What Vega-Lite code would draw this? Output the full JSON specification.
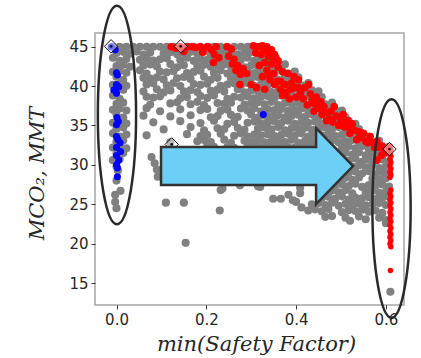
{
"$schema": "https://vega.github.io/schema/vega-lite/v6.json",
"width": 309, "height": 272,
"autosize": {"type": "none"},
"padding": {"left": 95, "top": 33, "right": 17, "bottom": 53},
"background": "white",
"config": {
 "view": {"stroke": "#a6a6a6", "strokeWidth": 1.5},
 "axis": {"domain": false, "grid": false, "tickColor": "#333333", "tickSize": 4, "labelFont": "DejaVu Sans", "labelFontSize": 15, "labelColor": "#262626", "labelPadding": 3, "titleFont": "DejaVu Serif", "titleFontStyle": "italic", "titleFontWeight": "normal", "titleFontSize": 21, "titleColor": "#262626"}
},
"datasets": {
"grey": [
{"sf":-0.008,"co2":45},{"sf":0.007,"co2":45},{"sf":0.022,"co2":45},{"sf":0.037,"co2":45},{"sf":0.052,"co2":45},{"sf":0.067,"co2":45},{"sf":0.082,"co2":45},{"sf":0.097,"co2":45},{"sf":0.112,"co2":45},{"sf":0.127,"co2":45},{"sf":0.142,"co2":45},{"sf":0.157,"co2":45},{"sf":0.172,"co2":45},{"sf":0.187,"co2":45},{"sf":0.202,"co2":45},{"sf":0.217,"co2":45},{"sf":0.232,"co2":45},{"sf":0.247,"co2":45},{"sf":0.262,"co2":45},{"sf":0.277,"co2":45},{"sf":0.292,"co2":45},{"sf":0.307,"co2":45},{"sf":0.322,"co2":45},
{"sf":0,"co2":44.2},{"sf":0.015,"co2":44.35},{"sf":0.03,"co2":44.1},{"sf":0.045,"co2":44.4},{"sf":0.06,"co2":44.0},{"sf":0.075,"co2":44.25},{"sf":0.105,"co2":44.15},{"sf":0.12,"co2":44.3},{"sf":0.135,"co2":44.05},{"sf":0.15,"co2":44.2},{"sf":0.165,"co2":44.35},{"sf":0.18,"co2":44.1},{"sf":0.195,"co2":44.4},{"sf":0.21,"co2":44.0},{"sf":0.225,"co2":44.25},{"sf":0.24,"co2":44.15},{"sf":0.255,"co2":44.3},{"sf":0.27,"co2":44.05},{"sf":0.285,"co2":44.2},{"sf":0.3,"co2":44.35},{"sf":0.315,"co2":44.1},{"sf":0.33,"co2":44.4},{"sf":0.345,"co2":44.0},
{"sf":-0.008,"co2":43.6},{"sf":0.007,"co2":43.2},{"sf":0.022,"co2":43.45},{"sf":0.052,"co2":43.35},{"sf":0.067,"co2":43.5},{"sf":0.082,"co2":43.25},{"sf":0.097,"co2":43.4},{"sf":0.112,"co2":43.55},{"sf":0.142,"co2":43.3},{"sf":0.157,"co2":43.6},{"sf":0.172,"co2":43.2},{"sf":0.187,"co2":43.45},{"sf":0.202,"co2":43.35},{"sf":0.217,"co2":43.5},{"sf":0.232,"co2":43.25},{"sf":0.247,"co2":43.4},{"sf":0.262,"co2":43.55},{"sf":0.277,"co2":43.3},{"sf":0.292,"co2":43.6},{"sf":0.307,"co2":43.2},{"sf":0.322,"co2":43.45},{"sf":0.337,"co2":43.35},{"sf":0.352,"co2":43.5},
{"sf":0,"co2":42.55},{"sf":0.015,"co2":42.7},{"sf":0.03,"co2":42.45},{"sf":0.06,"co2":42.6},{"sf":0.075,"co2":42.75},{"sf":0.09,"co2":42.5},{"sf":0.12,"co2":42.8},{"sf":0.135,"co2":42.4},{"sf":0.15,"co2":42.65},{"sf":0.18,"co2":42.55},{"sf":0.195,"co2":42.7},{"sf":0.21,"co2":42.45},{"sf":0.225,"co2":42.6},{"sf":0.24,"co2":42.75},{"sf":0.255,"co2":42.5},{"sf":0.27,"co2":42.8},{"sf":0.285,"co2":42.4},{"sf":0.3,"co2":42.65},{"sf":0.315,"co2":42.55},{"sf":0.33,"co2":42.7},{"sf":0.345,"co2":42.45},{"sf":0.36,"co2":42.6},{"sf":0.375,"co2":42.75},
{"sf":-0.008,"co2":41.8},{"sf":0.007,"co2":41.95},{"sf":0.022,"co2":41.7},{"sf":0.052,"co2":42.0},{"sf":0.067,"co2":41.6},{"sf":0.097,"co2":41.85},{"sf":0.112,"co2":41.75},{"sf":0.127,"co2":41.9},{"sf":0.157,"co2":41.65},{"sf":0.172,"co2":41.8},{"sf":0.187,"co2":41.95},{"sf":0.217,"co2":41.7},{"sf":0.232,"co2":42.0},{"sf":0.247,"co2":41.6},{"sf":0.262,"co2":41.85},{"sf":0.277,"co2":41.75},{"sf":0.292,"co2":41.9},{"sf":0.307,"co2":41.65},{"sf":0.322,"co2":41.8},{"sf":0.337,"co2":41.95},{"sf":0.352,"co2":41.7},{"sf":0.367,"co2":42.0},{"sf":0.382,"co2":41.6},{"sf":0.397,"co2":41.85},
{"sf":0,"co2":41.2},{"sf":0.015,"co2":40.8},{"sf":0.06,"co2":41.05},{"sf":0.075,"co2":40.95},{"sf":0.09,"co2":41.1},{"sf":0.105,"co2":40.85},{"sf":0.135,"co2":41.0},{"sf":0.15,"co2":41.15},{"sf":0.165,"co2":40.9},{"sf":0.195,"co2":41.2},{"sf":0.21,"co2":40.8},{"sf":0.225,"co2":41.05},{"sf":0.255,"co2":40.95},{"sf":0.27,"co2":41.1},{"sf":0.285,"co2":40.85},{"sf":0.3,"co2":41.0},{"sf":0.315,"co2":41.15},{"sf":0.33,"co2":40.9},{"sf":0.345,"co2":41.2},{"sf":0.36,"co2":40.8},{"sf":0.375,"co2":41.05},{"sf":0.39,"co2":40.95},{"sf":0.405,"co2":41.1},
{"sf":-0.008,"co2":40.15},{"sf":0.007,"co2":40.3},{"sf":0.022,"co2":40.05},{"sf":0.067,"co2":40.2},{"sf":0.082,"co2":40.35},{"sf":0.112,"co2":40.1},{"sf":0.127,"co2":40.4},{"sf":0.142,"co2":40.0},{"sf":0.172,"co2":40.25},{"sf":0.187,"co2":40.15},{"sf":0.202,"co2":40.3},{"sf":0.232,"co2":40.05},{"sf":0.247,"co2":40.2},{"sf":0.262,"co2":40.35},{"sf":0.277,"co2":40.1},{"sf":0.292,"co2":40.4},{"sf":0.307,"co2":40.0},{"sf":0.322,"co2":40.25},{"sf":0.337,"co2":40.15},{"sf":0.352,"co2":40.3},{"sf":0.367,"co2":40.05},{"sf":0.382,"co2":40.2},{"sf":0.397,"co2":40.35},{"sf":0.412,"co2":40.1},{"sf":0.427,"co2":40.4},
{"sf":0,"co2":39.4},{"sf":0.015,"co2":39.55},{"sf":0.06,"co2":39.3},{"sf":0.09,"co2":39.6},{"sf":0.105,"co2":39.2},{"sf":0.12,"co2":39.45},{"sf":0.15,"co2":39.35},{"sf":0.165,"co2":39.5},{"sf":0.18,"co2":39.25},{"sf":0.21,"co2":39.4},{"sf":0.225,"co2":39.55},{"sf":0.24,"co2":39.3},{"sf":0.27,"co2":39.6},{"sf":0.285,"co2":39.2},{"sf":0.3,"co2":39.45},{"sf":0.315,"co2":39.35},{"sf":0.33,"co2":39.5},{"sf":0.345,"co2":39.25},{"sf":0.36,"co2":39.4},{"sf":0.375,"co2":39.55},{"sf":0.39,"co2":39.3},{"sf":0.405,"co2":39.6},{"sf":0.42,"co2":39.2},{"sf":0.435,"co2":39.45},{"sf":0.45,"co2":39.35},
{"sf":-0.008,"co2":38.8},{"sf":0.007,"co2":38.4},{"sf":0.067,"co2":38.65},{"sf":0.082,"co2":38.55},{"sf":0.097,"co2":38.7},{"sf":0.142,"co2":38.45},{"sf":0.157,"co2":38.6},{"sf":0.187,"co2":38.75},{"sf":0.202,"co2":38.5},{"sf":0.217,"co2":38.8},{"sf":0.247,"co2":38.4},{"sf":0.262,"co2":38.65},{"sf":0.277,"co2":38.55},{"sf":0.292,"co2":38.7},{"sf":0.307,"co2":38.45},{"sf":0.322,"co2":38.6},{"sf":0.337,"co2":38.75},{"sf":0.352,"co2":38.5},{"sf":0.367,"co2":38.8},{"sf":0.382,"co2":38.4},{"sf":0.397,"co2":38.65},{"sf":0.412,"co2":38.55},{"sf":0.427,"co2":38.7},{"sf":0.442,"co2":38.45},{"sf":0.457,"co2":38.6},
{"sf":0,"co2":37.75},{"sf":0.015,"co2":37.9},{"sf":0.075,"co2":37.65},{"sf":0.12,"co2":37.8},{"sf":0.135,"co2":37.95},{"sf":0.165,"co2":37.7},{"sf":0.18,"co2":38.0},{"sf":0.195,"co2":37.6},{"sf":0.225,"co2":37.85},{"sf":0.24,"co2":37.75},{"sf":0.255,"co2":37.9},{"sf":0.285,"co2":37.65},{"sf":0.3,"co2":37.8},{"sf":0.315,"co2":37.95},{"sf":0.33,"co2":37.7},{"sf":0.345,"co2":38.0},{"sf":0.36,"co2":37.6},{"sf":0.375,"co2":37.85},{"sf":0.39,"co2":37.75},{"sf":0.405,"co2":37.9},{"sf":0.42,"co2":37.65},{"sf":0.435,"co2":37.8},{"sf":0.45,"co2":37.95},{"sf":0.465,"co2":37.7},{"sf":0.48,"co2":37.9},
{"sf":-0.008,"co2":37.0},{"sf":0.007,"co2":37.15},{"sf":0.022,"co2":36.9},{"sf":0.067,"co2":37.2},{"sf":0.097,"co2":36.8},{"sf":0.142,"co2":37.05},{"sf":0.187,"co2":36.95},{"sf":0.202,"co2":37.1},{"sf":0.232,"co2":36.85},{"sf":0.247,"co2":37.0},{"sf":0.277,"co2":37.15},{"sf":0.292,"co2":36.9},{"sf":0.307,"co2":37.2},{"sf":0.322,"co2":36.8},{"sf":0.337,"co2":37.05},{"sf":0.352,"co2":36.95},{"sf":0.367,"co2":37.1},{"sf":0.382,"co2":36.85},{"sf":0.397,"co2":37.0},{"sf":0.412,"co2":37.15},{"sf":0.427,"co2":36.9},{"sf":0.442,"co2":37.2},{"sf":0.457,"co2":36.8},{"sf":0.472,"co2":37.05},{"sf":0.487,"co2":36.95},{"sf":0.502,"co2":36.9},
{"sf":0,"co2":36.4},{"sf":0.015,"co2":36.0},{"sf":0.06,"co2":36.25},{"sf":0.12,"co2":36.15},{"sf":0.165,"co2":36.3},{"sf":0.21,"co2":36.05},{"sf":0.225,"co2":36.2},{"sf":0.255,"co2":36.35},{"sf":0.27,"co2":36.1},{"sf":0.3,"co2":36.4},{"sf":0.315,"co2":36.0},{"sf":0.33,"co2":36.25},{"sf":0.345,"co2":36.15},{"sf":0.36,"co2":36.3},{"sf":0.375,"co2":36.05},{"sf":0.39,"co2":36.2},{"sf":0.405,"co2":36.35},{"sf":0.42,"co2":36.1},{"sf":0.435,"co2":36.4},{"sf":0.45,"co2":36.0},{"sf":0.465,"co2":36.25},{"sf":0.48,"co2":36.15},{"sf":0.495,"co2":36.3},{"sf":0.51,"co2":36.05},
{"sf":-0.008,"co2":35.35},{"sf":0.007,"co2":35.5},{"sf":0.022,"co2":35.25},{"sf":0.082,"co2":35.4},{"sf":0.142,"co2":35.55},{"sf":0.187,"co2":35.3},{"sf":0.217,"co2":35.6},{"sf":0.247,"co2":35.2},{"sf":0.262,"co2":35.45},{"sf":0.292,"co2":35.35},{"sf":0.307,"co2":35.5},{"sf":0.322,"co2":35.25},{"sf":0.337,"co2":35.4},{"sf":0.352,"co2":35.55},{"sf":0.367,"co2":35.3},{"sf":0.382,"co2":35.6},{"sf":0.397,"co2":35.2},{"sf":0.412,"co2":35.45},{"sf":0.427,"co2":35.35},{"sf":0.442,"co2":35.5},{"sf":0.457,"co2":35.25},{"sf":0.472,"co2":35.4},{"sf":0.487,"co2":35.55},{"sf":0.502,"co2":35.3},{"sf":0.517,"co2":35.6},{"sf":0.532,"co2":35.2},
{"sf":0,"co2":34.6},{"sf":0.015,"co2":34.75},{"sf":0.105,"co2":34.5},{"sf":0.165,"co2":34.8},{"sf":0.195,"co2":34.4},{"sf":0.225,"co2":34.65},{"sf":0.24,"co2":34.55},{"sf":0.27,"co2":34.7},{"sf":0.285,"co2":34.45},{"sf":0.315,"co2":34.6},{"sf":0.33,"co2":34.75},{"sf":0.345,"co2":34.5},{"sf":0.36,"co2":34.8},{"sf":0.375,"co2":34.4},{"sf":0.39,"co2":34.65},{"sf":0.405,"co2":34.55},{"sf":0.42,"co2":34.7},{"sf":0.435,"co2":34.45},{"sf":0.45,"co2":34.6},{"sf":0.465,"co2":34.75},{"sf":0.48,"co2":34.5},{"sf":0.495,"co2":34.8},{"sf":0.51,"co2":34.4},{"sf":0.525,"co2":34.65},{"sf":0.54,"co2":34.55},
{"sf":-0.008,"co2":34.0},{"sf":0.007,"co2":33.6},{"sf":0.022,"co2":33.85},{"sf":0.067,"co2":33.75},{"sf":0.157,"co2":33.9},{"sf":0.187,"co2":33.65},{"sf":0.202,"co2":33.8},{"sf":0.232,"co2":33.95},{"sf":0.262,"co2":33.7},{"sf":0.277,"co2":34.0},{"sf":0.292,"co2":33.6},{"sf":0.307,"co2":33.85},{"sf":0.322,"co2":33.75},{"sf":0.337,"co2":33.9},{"sf":0.352,"co2":33.65},{"sf":0.367,"co2":33.8},{"sf":0.382,"co2":33.95},{"sf":0.397,"co2":33.7},{"sf":0.412,"co2":34.0},{"sf":0.427,"co2":33.6},{"sf":0.442,"co2":33.85},{"sf":0.457,"co2":33.75},{"sf":0.472,"co2":33.9},{"sf":0.487,"co2":33.65},{"sf":0.502,"co2":33.8},{"sf":0.517,"co2":33.95},{"sf":0.532,"co2":33.7},{"sf":0.547,"co2":34.0},{"sf":0.562,"co2":33.6},
{"sf":0,"co2":32.95},{"sf":0.015,"co2":33.1},{"sf":0.12,"co2":32.85},{"sf":0.18,"co2":33.0},{"sf":0.195,"co2":33.15},{"sf":0.21,"co2":32.9},{"sf":0.24,"co2":33.2},{"sf":0.255,"co2":32.8},{"sf":0.285,"co2":33.05},{"sf":0.3,"co2":32.95},{"sf":0.315,"co2":33.1},{"sf":0.33,"co2":32.85},{"sf":0.345,"co2":33.0},{"sf":0.36,"co2":33.15},{"sf":0.375,"co2":32.9},{"sf":0.39,"co2":33.2},{"sf":0.405,"co2":32.8},{"sf":0.42,"co2":33.05},{"sf":0.435,"co2":32.95},{"sf":0.48,"co2":33.1},{"sf":0.495,"co2":32.85},{"sf":0.51,"co2":33.0},{"sf":0.525,"co2":33.15},{"sf":0.54,"co2":32.9},{"sf":0.555,"co2":33.2},{"sf":0.57,"co2":32.8},{"sf":0.585,"co2":33.05},
{"sf":-0.008,"co2":32.2},{"sf":0.007,"co2":32.35},{"sf":0.022,"co2":32.1},{"sf":0.202,"co2":32.4},{"sf":0.217,"co2":32.3},{"sf":0.247,"co2":32.25},{"sf":0.262,"co2":32.15},{"sf":0.292,"co2":32.3},{"sf":0.307,"co2":32.4},{"sf":0.322,"co2":32.2},{"sf":0.337,"co2":32.35},{"sf":0.352,"co2":32.3},{"sf":0.367,"co2":32.4},{"sf":0.382,"co2":32.25},{"sf":0.397,"co2":32.2},{"sf":0.412,"co2":32.35},{"sf":0.427,"co2":32.3},{"sf":0.442,"co2":32.4},{"sf":0.502,"co2":32.2},{"sf":0.517,"co2":32.35},{"sf":0.532,"co2":32.1},{"sf":0.547,"co2":32.4},{"sf":0.562,"co2":32.0},{"sf":0.577,"co2":32.25},{"sf":0.592,"co2":32.15},{"sf":0.607,"co2":32.3},
{"sf":0,"co2":31.4},{"sf":0.015,"co2":31.5},{"sf":0.078,"co2":31.0},{"sf":0.495,"co2":31.4},{"sf":0.51,"co2":31.55},{"sf":0.525,"co2":31.3},{"sf":0.54,"co2":31.6},{"sf":0.555,"co2":31.2},{"sf":0.57,"co2":31.45},{"sf":0.585,"co2":31.35},{"sf":0.6,"co2":31.5},
{"sf":-0.008,"co2":30.6},{"sf":0.007,"co2":30.75},{"sf":0.085,"co2":30.2},{"sf":0.517,"co2":30.5},{"sf":0.532,"co2":30.8},{"sf":0.547,"co2":30.4},{"sf":0.562,"co2":30.65},{"sf":0.577,"co2":30.55},{"sf":0.592,"co2":30.7},{"sf":0.607,"co2":30.45},
{"sf":0,"co2":29.8},{"sf":0.525,"co2":29.8},{"sf":0.54,"co2":29.95},{"sf":0.555,"co2":29.7},{"sf":0.57,"co2":30.0},{"sf":0.585,"co2":29.6},{"sf":0.6,"co2":29.85},
{"sf":0.003,"co2":29.3},{"sf":0.09,"co2":29.4},{"sf":0.517,"co2":29.0},{"sf":0.532,"co2":29.15},{"sf":0.547,"co2":28.9},{"sf":0.562,"co2":29.2},{"sf":0.577,"co2":28.8},{"sf":0.592,"co2":29.05},{"sf":0.607,"co2":28.95},
{"sf":0,"co2":28.0},{"sf":0.092,"co2":28.5},{"sf":0.495,"co2":28.2},{"sf":0.51,"co2":28.35},{"sf":0.525,"co2":28.1},{"sf":0.54,"co2":28.4},{"sf":0.57,"co2":28.25},{"sf":0.585,"co2":28.15},{"sf":0.6,"co2":28.3},
{"sf":0.487,"co2":27.4},{"sf":0.502,"co2":27.55},{"sf":0.517,"co2":27.3},{"sf":0.532,"co2":27.6},{"sf":0.547,"co2":27.2},{"sf":0.562,"co2":27.45},{"sf":0.577,"co2":27.35},{"sf":0.592,"co2":27.5},{"sf":0.607,"co2":27.25},
{"sf":0.009,"co2":26.7},{"sf":0.465,"co2":26.6},{"sf":0.48,"co2":26.75},{"sf":0.495,"co2":26.5},{"sf":0.51,"co2":26.8},{"sf":0.525,"co2":26.4},{"sf":0.555,"co2":26.55},{"sf":0.57,"co2":26.7},{"sf":0.585,"co2":26.45},{"sf":0.6,"co2":26.6},
{"sf":-0.003,"co2":26.2},{"sf":0.457,"co2":25.8},{"sf":0.472,"co2":25.95},{"sf":0.487,"co2":25.7},{"sf":0.502,"co2":26.0},{"sf":0.517,"co2":25.6},{"sf":0.532,"co2":25.85},{"sf":0.547,"co2":25.75},{"sf":0.562,"co2":25.9},{"sf":0.577,"co2":25.65},{"sf":0.592,"co2":25.8},{"sf":0.607,"co2":25.95},
{"sf":-0.003,"co2":25.3},{"sf":0.435,"co2":25.0},{"sf":0.45,"co2":25.15},{"sf":0.465,"co2":24.9},{"sf":0.48,"co2":25.2},{"sf":0.495,"co2":24.8},{"sf":0.51,"co2":25.05},{"sf":0.525,"co2":24.95},{"sf":0.54,"co2":25.1},{"sf":0.555,"co2":24.85},{"sf":0.57,"co2":25.0},{"sf":0.585,"co2":25.15},{"sf":0.6,"co2":24.9},
{"sf":0,"co2":24.5},{"sf":0.427,"co2":24.2},{"sf":0.442,"co2":24.35},{"sf":0.457,"co2":24.1},{"sf":0.472,"co2":24.4},{"sf":0.502,"co2":24.0},{"sf":0.517,"co2":24.25},{"sf":0.532,"co2":24.15},{"sf":0.547,"co2":24.3},{"sf":0.562,"co2":24.05},{"sf":0.577,"co2":24.2},{"sf":0.592,"co2":23.9},
{"sf":0.465,"co2":23.4},{"sf":0.48,"co2":23.5},{"sf":0.51,"co2":23.3},{"sf":0.54,"co2":23.45},{"sf":0.555,"co2":23.1},{"sf":0.585,"co2":23.3},{"sf":0.6,"co2":23.0},
{"sf":0.52,"co2":22.9},{"sf":0.6,"co2":22.6},{"sf":0.61,"co2":13.9},
{"sf":0.232,"co2":26.8},{"sf":0.236,"co2":27.0},{"sf":0.23,"co2":24.2},{"sf":0.275,"co2":27.4},{"sf":0.315,"co2":27.3},{"sf":0.32,"co2":27.2},{"sf":0.349,"co2":25.7},{"sf":0.366,"co2":25.7},{"sf":0.383,"co2":26.2},{"sf":0.393,"co2":25.5},{"sf":0.4,"co2":25.3},{"sf":0.409,"co2":26.4},{"sf":0.412,"co2":24.6},{"sf":0.409,"co2":27.1},{"sf":0.11,"co2":25.2},{"sf":0.15,"co2":25.2},{"sf":0.154,"co2":20.1}
],
"red": [
{"sf":0.122,"co2":45.0},{"sf":0.132,"co2":44.8},{"sf":0.142,"co2":45.0},{"sf":0.15,"co2":44.4},{"sf":0.158,"co2":45.0},{"sf":0.168,"co2":45.0},{"sf":0.176,"co2":44.9},{"sf":0.186,"co2":45.0},{"sf":0.196,"co2":44.8},{"sf":0.204,"co2":45.0},{"sf":0.192,"co2":44.3},{"sf":0.212,"co2":44.6},{"sf":0.222,"co2":45.0},{"sf":0.218,"co2":44.0},{"sf":0.228,"co2":43.6},{"sf":0.216,"co2":43.0},
{"sf":0.246,"co2":45.0},{"sf":0.256,"co2":44.7},{"sf":0.25,"co2":43.8},{"sf":0.262,"co2":43.4},{"sf":0.258,"co2":42.8},{"sf":0.27,"co2":42.6},{"sf":0.282,"co2":42.2},{"sf":0.276,"co2":41.5},{"sf":0.29,"co2":41.6},{"sf":0.275,"co2":40.2},{"sf":0.266,"co2":42.0},
{"sf":0.305,"co2":45.1},{"sf":0.315,"co2":45.0},{"sf":0.325,"co2":45.1},{"sf":0.335,"co2":45.0},{"sf":0.345,"co2":44.6},{"sf":0.31,"co2":44.2},{"sf":0.322,"co2":44.0},{"sf":0.338,"co2":43.8},{"sf":0.352,"co2":44.0},{"sf":0.36,"co2":43.2},{"sf":0.33,"co2":43.0},{"sf":0.345,"co2":42.8},{"sf":0.318,"co2":42.6},{"sf":0.335,"co2":42.0},{"sf":0.35,"co2":41.6},{"sf":0.325,"co2":41.2},{"sf":0.342,"co2":40.8},{"sf":0.358,"co2":40.6},{"sf":0.3,"co2":40.2},{"sf":0.312,"co2":39.8},{"sf":0.33,"co2":39.6},{"sf":0.365,"co2":39.6},{"sf":0.37,"co2":38.8},{"sf":0.378,"co2":39.2},{"sf":0.36,"co2":42.4},{"sf":0.37,"co2":41.8},
{"sf":0.34,"co2":44.4},{"sf":0.355,"co2":43.6},{"sf":0.328,"co2":44.5},{"sf":0.348,"co2":43.3},{"sf":0.338,"co2":41.4},{"sf":0.352,"co2":40.2},{"sf":0.365,"co2":40.6},{"sf":0.375,"co2":40.2},{"sf":0.388,"co2":39.6},{"sf":0.405,"co2":39.8},
{"sf":0.382,"co2":41.6},{"sf":0.395,"co2":41.2},{"sf":0.39,"co2":40.4},{"sf":0.405,"co2":40.8},{"sf":0.398,"co2":39.8},{"sf":0.41,"co2":39.2},{"sf":0.42,"co2":39.8},{"sf":0.416,"co2":38.4},{"sf":0.428,"co2":40.2},{"sf":0.432,"co2":39.0},{"sf":0.385,"co2":38.4},{"sf":0.4,"co2":38.6},{"sf":0.436,"co2":38.2},{"sf":0.425,"co2":37.6},
{"sf":0.445,"co2":38.6},{"sf":0.455,"co2":38.0},{"sf":0.448,"co2":37.2},{"sf":0.462,"co2":37.4},{"sf":0.47,"co2":36.6},{"sf":0.458,"co2":36.4},{"sf":0.475,"co2":35.8},{"sf":0.485,"co2":37.4},{"sf":0.49,"co2":36.2},{"sf":0.482,"co2":35.4},{"sf":0.495,"co2":35.0},{"sf":0.468,"co2":35.6},{"sf":0.44,"co2":36.8},
{"sf":0.44,"co2":37.8},{"sf":0.46,"co2":36.9},{"sf":0.478,"co2":36.8},{"sf":0.5,"co2":35.7},{"sf":0.51,"co2":35.2},{"sf":0.522,"co2":34.6},
{"sf":0.505,"co2":36.4},{"sf":0.515,"co2":35.6},{"sf":0.508,"co2":34.8},{"sf":0.525,"co2":35.2},{"sf":0.53,"co2":34.4},{"sf":0.52,"co2":34.0},{"sf":0.54,"co2":34.2},{"sf":0.545,"co2":33.6},{"sf":0.535,"co2":33.2},{"sf":0.55,"co2":34.0},{"sf":0.555,"co2":33.0},
{"sf":0.54,"co2":33.4},{"sf":0.56,"co2":32.8},{"sf":0.575,"co2":32.2},{"sf":0.59,"co2":31.2},
{"sf":0.565,"co2":33.6},{"sf":0.572,"co2":32.8},{"sf":0.58,"co2":33.0},{"sf":0.585,"co2":32.2},{"sf":0.592,"co2":32.4},{"sf":0.598,"co2":31.6},{"sf":0.58,"co2":30.6},{"sf":0.6,"co2":32.0}
],
"redcol": [
{"sf":0.609,"co2":32.3},{"sf":0.611,"co2":31.9},{"sf":0.609,"co2":31.5},{"sf":0.611,"co2":31.1},{"sf":0.609,"co2":30.7},{"sf":0.611,"co2":30.3},{"sf":0.609,"co2":29.9},{"sf":0.611,"co2":29.5},{"sf":0.609,"co2":29.1},{"sf":0.611,"co2":28.7},{"sf":0.609,"co2":28.4},{"sf":0.611,"co2":26.8},{"sf":0.609,"co2":26.4},{"sf":0.611,"co2":26.0},{"sf":0.609,"co2":25.6},{"sf":0.611,"co2":25.2},{"sf":0.609,"co2":24.8},{"sf":0.611,"co2":24.4},{"sf":0.609,"co2":24.0},{"sf":0.611,"co2":23.6},{"sf":0.609,"co2":23.2},{"sf":0.611,"co2":22.8},{"sf":0.609,"co2":22.4},{"sf":0.611,"co2":22.0},{"sf":0.609,"co2":21.6},{"sf":0.611,"co2":21.2},{"sf":0.609,"co2":20.8},{"sf":0.611,"co2":20.4},{"sf":0.609,"co2":20.0},{"sf":0.611,"co2":19.6},{"sf":0.61,"co2":16.6}
],
"blue": [
{"sf":-0.012,"co2":45.0},{"sf":-0.003,"co2":44.6},{"sf":0.0,"co2":41.7},{"sf":0.002,"co2":41.4},{"sf":0.0,"co2":40.2},{"sf":0.005,"co2":39.9},{"sf":-0.006,"co2":39.5},{"sf":0.0,"co2":39.1},{"sf":0.001,"co2":36.0},{"sf":0.004,"co2":35.5},{"sf":0.0,"co2":35.1},{"sf":0.0,"co2":33.6},{"sf":0.003,"co2":33.2},{"sf":0.008,"co2":32.8},{"sf":0.0,"co2":32.2},{"sf":0.009,"co2":31.7},{"sf":0.0,"co2":31.2},{"sf":0.005,"co2":30.6},{"sf":0.0,"co2":30.0},{"sf":0.002,"co2":29.6},{"sf":0.002,"co2":28.5},{"sf":0.327,"co2":36.4}
],
"diamonds": [
{"sf":-0.012,"co2":45.05},{"sf":0.143,"co2":45.05},{"sf":0.123,"co2":32.6},{"sf":0.608,"co2":32.0}
],
"arrow": [{"sf":0.313,"co2":29.85}],
"ellipses": [{"sf":0.001,"co2":36.33},{"sf":0.6125,"co2":24.47}]
},
"encoding": {
 "x": {"field": "sf", "type": "quantitative", "scale": {"domain": [-0.0479, 0.6403], "nice": false, "zero": false},
   "axis": {"values": [0, 0.2, 0.4, 0.6], "format": ".1f", "title": "min(Safety Factor)", "titleX": 161, "titleY": 45, "titleBaseline": "alphabetic", "titleAlign": "center"}},
 "y": {"field": "co2", "type": "quantitative", "scale": {"domain": [12.21, 46.74], "nice": false, "zero": false},
   "axis": {"values": [15, 20, 25, 30, 35, 40, 45], "title": "MCO₂, MMT", "titleX": -52, "titleY": 140, "titleBaseline": "alphabetic", "titleAlign": "center", "titleAngle": 270}}
},
"layer": [
 {"data": {"name": "grey"}, "mark": {"type": "circle", "size": 66, "color": "#808080", "opacity": 1}},
 {"data": {"name": "red"}, "mark": {"type": "circle", "size": 58, "color": "#ff0000", "opacity": 1}},
 {"data": {"name": "redcol"}, "mark": {"type": "circle", "size": 30, "color": "#ff0000", "opacity": 1}},
 {"data": {"name": "blue"}, "mark": {"type": "circle", "size": 50, "color": "#0000ff", "opacity": 1}},
 {"data": {"name": "diamonds"}, "mark": {"type": "point", "shape": "diamond", "size": 180, "filled": true, "fill": "#ffffff", "fillOpacity": 0.45, "stroke": "#111111", "strokeWidth": 1, "opacity": 1}},
 {"data": {"name": "diamonds"}, "mark": {"type": "circle", "size": 8, "color": "#111111", "opacity": 1}},
 {"data": {"name": "arrow"}, "mark": {"type": "point", "shape": "M-1,-0.198L0.615,-0.198L0.615,-0.396L1,0L0.615,0.396L0.615,0.198L-1,0.198Z", "size": 36864, "filled": true, "fill": "#6dcff6", "stroke": "#333333", "strokeWidth": 2.5, "opacity": 1, "fillOpacity": 1}},
 {"data": {"name": "ellipses"}, "mark": {"type": "point", "shape": "M0,-1C0.0967,-1,0.175,-0.5523,0.175,0C0.175,0.5523,0.0967,1,0,1C-0.0967,1,-0.175,0.5523,-0.175,0C-0.175,-0.5523,-0.0967,-1,0,-1Z", "size": 47742, "filled": false, "stroke": "#2a2a2a", "strokeWidth": 2.5, "opacity": 1}}
]
}
